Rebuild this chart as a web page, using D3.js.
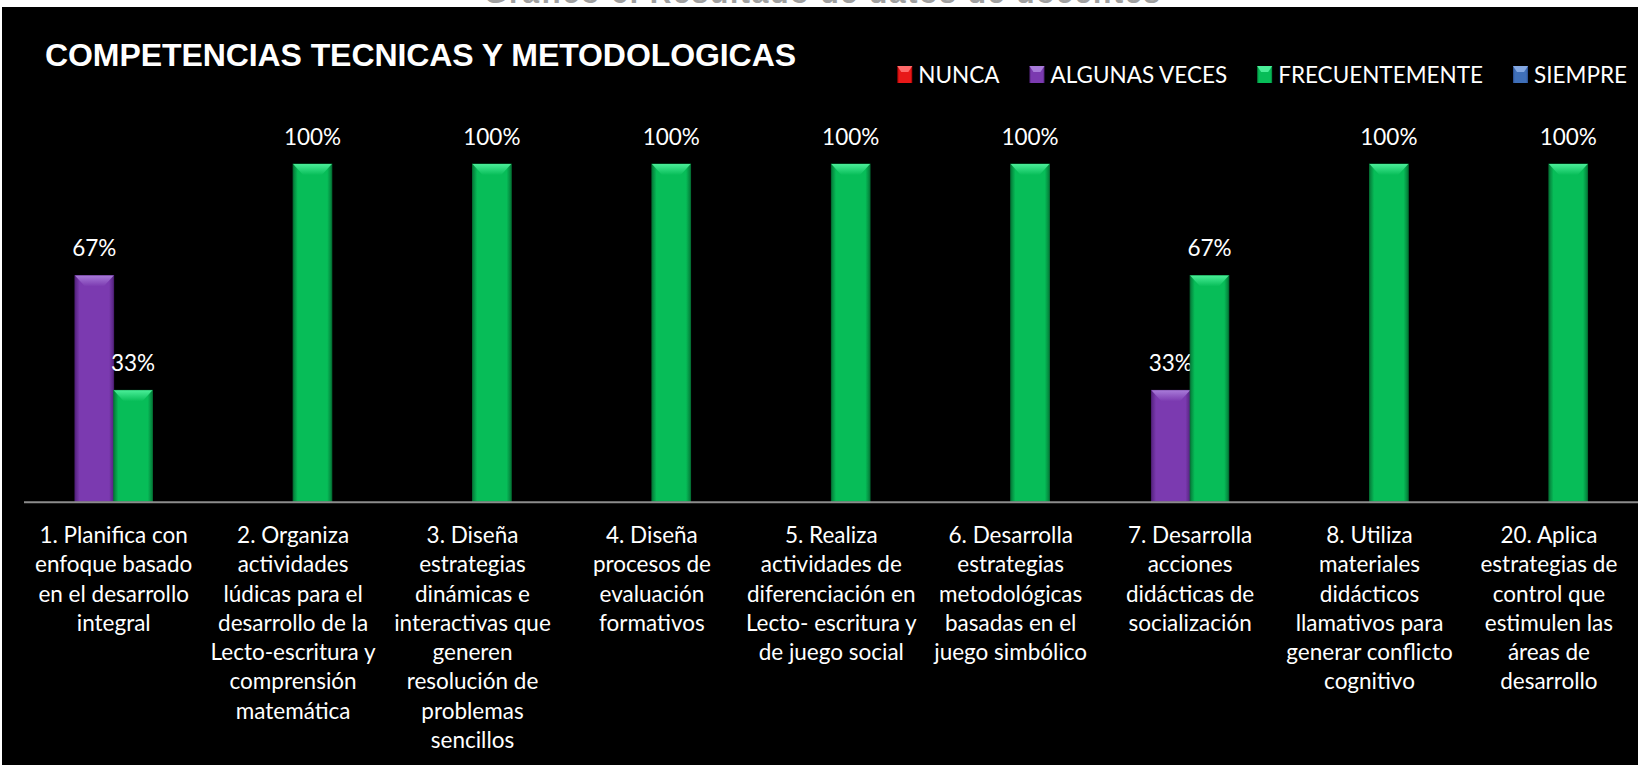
<!DOCTYPE html>
<html>
<head>
<meta charset="utf-8">
<script src="https://cdn.jsdelivr.net/npm/d3@7"></script>
<style>
  body { margin: 0; background: #fff; }
  svg { display: block; }
</style>
</head>
<body>
<script>
var w = 1638;
var h = 765;

// data
var categories = [
    ["1. Planifica con", "enfoque basado", "en el desarrollo", "integral"],
    ["2. Organiza", "actividades", "lúdicas para el", "desarrollo de la", "Lecto-escritura y", "comprensión", "matemática"],
    ["3. Diseña", "estrategias", "dinámicas e", "interactivas que", "generen", "resolución de", "problemas", "sencillos"],
    ["4. Diseña", "procesos de", "evaluación", "formativos"],
    ["5. Realiza", "actividades de", "diferenciación en", "Lecto- escritura y", "de juego social"],
    ["6. Desarrolla", "estrategias", "metodológicas", "basadas en el", "juego simbólico"],
    ["7. Desarrolla", "acciones", "didácticas de", "socialización"],
    ["8. Utiliza", "materiales", "didácticos", "llamativos para", "generar conflicto", "cognitivo"],
    ["20. Aplica", "estrategias de", "control que", "estimulen las", "áreas de", "desarrollo"]
];
var seriesNames = ["NUNCA", "ALGUNAS VECES", "FRECUENTEMENTE", "SIEMPRE"];
var nunca = [0, 0, 0, 0, 0, 0, 0, 0, 0];
var algunasVeces = [0.67, 0, 0, 0, 0, 0, 0.33, 0, 0];
var frecuentemente = [0.33, 1, 1, 1, 1, 1, 0.67, 1, 1];
var siempre = [0, 0, 0, 0, 0, 0, 0, 0, 0];

var colors = {
    "NUNCA": ["#e81818", "#ff6a6a", "#9c0000"],
    "ALGUNAS VECES": ["#7b3ab0", "#a87bd9", "#55237f"],
    "FRECUENTEMENTE": ["#07bd58", "#4aee98", "#047a38"],
    "SIEMPRE": ["#3f6fb8", "#84a8e2", "#28498a"]
};

var values = [nunca, algunasVeces, frecuentemente, siempre];
var catIds = categories.map(function(c, i){ return i; });

var svg = d3.select("body").append("svg")
    .attr("width", w)
    .attr("height", h);

// cut-off heading strip at the top
svg.append("rect").attr("width", w).attr("height", h).attr("fill", "#fff");
svg.append("text")
    .attr("x", 822).attr("y", 3)
    .attr("text-anchor", "middle")
    .attr("font-family", "Liberation Sans, Arial, sans-serif")
    .attr("font-weight", "bold")
    .attr("font-size", 30)
    .attr("fill", "#a0a0a0")
    .attr("textLength", 676)
    .text("Gráfico 6. Resultado de datos de docentes");
svg.append("rect")
    .attr("x", 2).attr("y", 7)
    .attr("width", w - 2).attr("height", h - 7)
    .attr("fill", "#000");

// gradients for the bevelled bars
var defs = svg.append("defs");
seriesNames.forEach(function(s, i){
    var c = colors[s];
    var g = defs.append("linearGradient").attr("id", "side" + i)
        .attr("x1", "0").attr("x2", "1").attr("y1", "0").attr("y2", "0");
    g.append("stop").attr("offset", "0").attr("stop-color", c[2]);
    g.append("stop").attr("offset", "0.12").attr("stop-color", c[0]);
    g.append("stop").attr("offset", "0.88").attr("stop-color", c[0]);
    g.append("stop").attr("offset", "1").attr("stop-color", c[2]);
    var t = defs.append("linearGradient").attr("id", "cap" + i)
        .attr("x1", "0").attr("x2", "0").attr("y1", "0").attr("y2", "1");
    t.append("stop").attr("offset", "0").attr("stop-color", c[1]);
    t.append("stop").attr("offset", "1").attr("stop-color", c[0]);
});

var x = d3.scaleBand().domain(catIds).range([24, 1638.6]);
var x1 = d3.scaleBand().domain(seriesNames).range([0, x.bandwidth()]).paddingOuter(0.315);
var y = d3.scaleLinear().domain([0, 1]).range([501.7, 164]);
var pct = d3.format(".0%");

// title
svg.append("text")
    .attr("x", 45).attr("y", 66)
    .attr("font-family", "Liberation Sans, Arial, sans-serif")
    .attr("font-weight", "bold")
    .attr("font-size", 32)
    .attr("fill", "#fff")
    .attr("textLength", 751)
    .text("COMPETENCIAS TECNICAS Y METODOLOGICAS");

// bars
var bw = x1.bandwidth();
seriesNames.forEach(function(s, si){
    values[si].forEach(function(v, ci){
        if (v <= 0) return;
        var bx = x(ci) + x1(s);
        var top = y(v);
        var g = svg.append("g");
        g.append("rect")
            .attr("x", bx).attr("y", top)
            .attr("width", bw).attr("height", y(0) - top)
            .attr("fill", "url(#side" + si + ")")
            .attr("stroke", colors[s][2]).attr("stroke-width", 0.8);
        var ins = bw * 0.26, capH = 11;
        g.append("polygon")
            .attr("points", [[bx, top], [bx + bw, top], [bx + bw - ins, top + capH], [bx + ins, top + capH]].join(" "))
            .attr("fill", "url(#cap" + si + ")");
        // value label
        svg.append("text")
            .attr("x", bx + bw / 2).attr("y", top - 19)
            .attr("text-anchor", "middle")
            .attr("font-family", "Lato, sans-serif")
            .attr("font-size", 22.5)
            .attr("fill", "#fff")
            .text(pct(v));
    });
});

// axis line
svg.append("line")
    .attr("x1", 24).attr("x2", w)
    .attr("y1", y(0) + 0.5).attr("y2", y(0) + 0.5)
    .attr("stroke", "#8c8c8c").attr("stroke-width", 2);

// category labels
categories.forEach(function(lines, ci){
    var t = svg.append("text")
        .attr("x", x(ci) + x.bandwidth() / 2)
        .attr("y", 543)
        .attr("text-anchor", "middle")
        .attr("font-family", "Lato, sans-serif")
        .attr("font-size", 22.5)
        .attr("fill", "#fff");
    lines.forEach(function(l, li){
        t.append("tspan")
            .attr("x", x(ci) + x.bandwidth() / 2)
            .attr("dy", li == 0 ? 0 : 29.25)
            .text(l);
    });
});

// legend, right aligned
var legend = svg.append("g");
var lx = 0;
seriesNames.forEach(function(s, si){
    var c = colors[s];
    legend.append("rect")
        .attr("x", lx).attr("y", 66)
        .attr("width", 15).attr("height", 17)
        .attr("fill", "url(#side" + si + ")");
    legend.append("polygon")
        .attr("points", [[lx, 66], [lx + 15, 66], [lx + 11, 72], [lx + 4, 72]].join(" "))
        .attr("fill", c[1]);
    var t = legend.append("text")
        .attr("x", lx + 21).attr("y", 83)
        .attr("font-family", "Lato, sans-serif")
        .attr("font-size", 22.5)
        .attr("fill", "#fff")
        .text(s);
    lx += 21 + t.node().getComputedTextLength() + 30;
});
legend.attr("transform", "translate(" + (1627 - (lx - 30) ) + ",0)");
</script>
</body>
</html>
